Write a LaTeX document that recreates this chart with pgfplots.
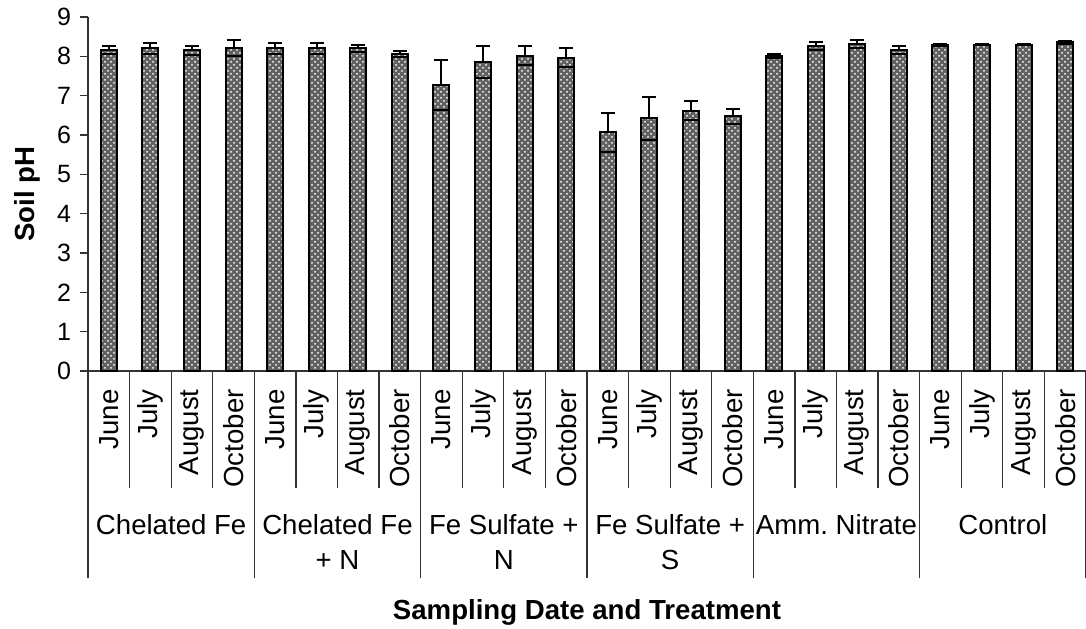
\documentclass[border=0pt]{standalone}
\usepackage{fontspec}
\setmainfont{Liberation Sans}
\usepackage{pgfplots}
\usepackage{pgfplotstable}
\pgfplotsset{compat=1.18}
\usetikzlibrary{patterns}

% soil pH by sampling date and treatment, with error
\pgfplotstableread{
x  y     e
0  8.16  0.10
1  8.21  0.14
2  8.15  0.11
3  8.21  0.20
4  8.21  0.14
5  8.21  0.14
6  8.20  0.10
7  8.06  0.07
8  7.27  0.64
9  7.86  0.41
10 8.02  0.25
11 7.97  0.25
12 6.07  0.50
13 6.42  0.55
14 6.62  0.25
15 6.47  0.20
16 8.01  0.04
17 8.26  0.10
18 8.31  0.10
19 8.16  0.11
20 8.29  0.02
21 8.30  0.02
22 8.30  0.02
23 8.36  0.04
}\phdata

\newcommand{\lab}{\fontsize{13.8}{16}\selectfont}

\begin{document}
\begin{tikzpicture}
\begin{axis}[
  name=ax,
  scale only axis,
  width=499pt, height=177pt,
  xmin=-0.5, xmax=23.5, ymin=0, ymax=9,
  axis lines*=left,
  axis line style={line width=0.6pt, black!80},
  tick align=outside,
  major tick length=4pt,
  ytick={0,...,9},
  ytick style={black!80, line width=0.6pt},
  yticklabel style={font=\fontsize{12.5}{14}\selectfont, xshift=-1pt},
  /pgf/number format/assume math mode=true,
  xtick={0,...,23},
  xtick style={draw=none},
  xticklabels={June,July,August,October,June,July,August,October,
               June,July,August,October,June,July,August,October,
               June,July,August,October,June,July,August,October},
  xticklabel style={rotate=90, anchor=east, inner sep=0pt, font=\lab},
  xticklabel shift=5pt,
  ylabel={\textbf{Soil pH}},
  ylabel style={at={([xshift=-30.5pt]axis description cs:0,0.5)}, anchor=center, font=\lab},
  xlabel={\textbf{Sampling Date and Treatment}},
  xlabel style={at={([yshift=-124.5pt]axis description cs:0.5,0)}, anchor=base, font=\lab},
  clip=false,
]
\addplot[ybar, bar width=8pt, draw=black, line width=1pt, fill=black!62,
  postaction={pattern=crosshatch dots, pattern color=white}]
  table[x=x, y=y] {\phdata};
\addplot[draw=none, mark=none,
  error bars/.cd, y dir=plus, y explicit,
  error bar style={draw=black, line width=1pt},
  error mark options={draw=black, line width=1pt, mark size=3.5pt, rotate=90}]
  table[x=x, y=y, y error=e] {\phdata};
\addplot[draw=none, mark=none,
  error bars/.cd, y dir=minus, y explicit,
  error bar style={draw=black, draw opacity=0},
  error mark options={draw=black, draw opacity=1, line width=1pt, mark size=4pt, rotate=90}]
  table[x=x, y=y, y error=e] {\phdata};

\pgfplotsinvokeforeach{-0.5,0.5,...,23.5}{
  \draw[black!80, line width=0.6pt] (axis cs:#1,0) -- ([yshift=-58.5pt]axis cs:#1,0);
}
\pgfplotsinvokeforeach{-0.5,3.5,...,23.5}{
  \draw[black!80, line width=0.6pt] (axis cs:#1,0) -- ([yshift=-103.5pt]axis cs:#1,0);
}
\node[anchor=base, font=\lab] at ([yshift=-82pt]axis cs:1.5,0) {Chelated Fe};
\node[anchor=base, font=\lab] at ([yshift=-82pt]axis cs:5.5,0) {Chelated Fe};
\node[anchor=base, font=\lab] at ([yshift=-99.5pt]axis cs:5.5,0) {+ N};
\node[anchor=base, font=\lab] at ([yshift=-82pt]axis cs:9.5,0) {Fe Sulfate +};
\node[anchor=base, font=\lab] at ([yshift=-99.5pt]axis cs:9.5,0) {N};
\node[anchor=base, font=\lab] at ([yshift=-82pt]axis cs:13.5,0) {Fe Sulfate +};
\node[anchor=base, font=\lab] at ([yshift=-99.5pt]axis cs:13.5,0) {S};
\node[anchor=base, font=\lab] at ([yshift=-82pt]axis cs:17.5,0) {Amm.\ Nitrate};
\node[anchor=base, font=\lab] at ([yshift=-82pt]axis cs:21.5,0) {Control};
\end{axis}
\pgfresetboundingbox
\useasboundingbox ([xshift=-44pt,yshift=-129pt]ax.south west) rectangle ([yshift=8.5pt]ax.north east);
\end{tikzpicture}
\end{document}
